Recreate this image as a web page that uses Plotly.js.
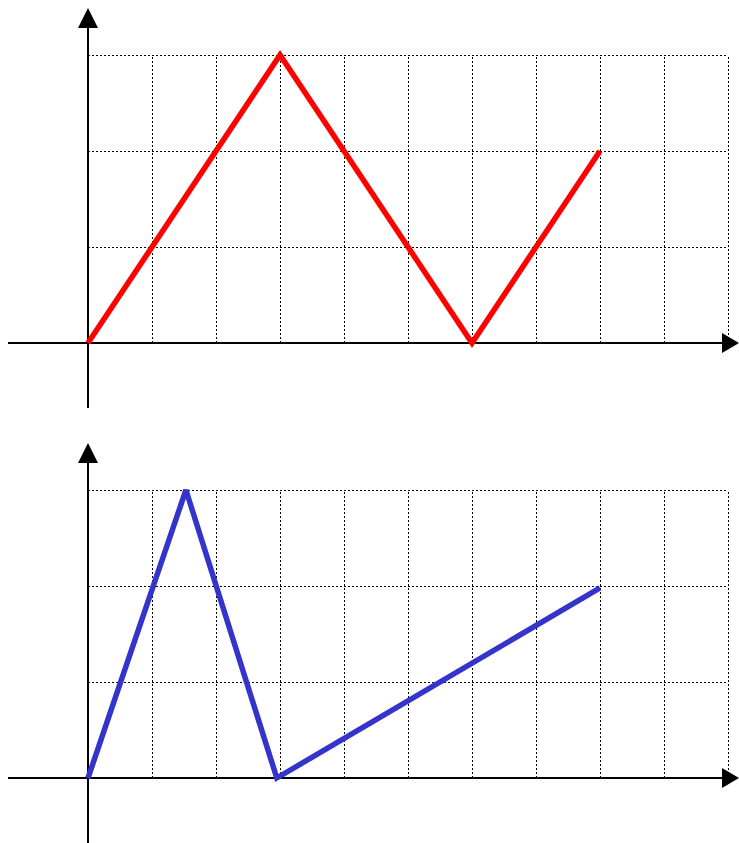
<!DOCTYPE html>
<html>
<head>
<meta charset="utf-8">
<script src="https://cdn.plot.ly/plotly-3.0.1.min.js"></script>
<style>html,body{margin:0;padding:0;background:#fff;}#chart{width:739px;height:843px;}</style>
</head>
<body>
<div id="chart"></div>
<script>
// Data
const redX = [0, 3, 6, 8];
const redY = [0, 3, 0, 2];
const blueX = [0, 1.53, 2.95, 8];
const blueY = [0, 3, 0, 1.98];
const gridXTicks = [0, 1, 2, 3, 4, 5, 6, 7, 8, 9, 10];
const gridYTicks = [0, 1, 2, 3];

const W = 739, H = 843;
const split = 425; // pixel row between the two panels
const xRange = [-88 / 64, (W - 88) / 64];
const topRange = [(343 - split) / 96, 343 / 96];
const botRange = [(778 - H) / 96, (778 - split) / 96];
const px = 0.5 / 64, py = 0.5 / 96; // half-pixel offsets for crisp 1px lines

function panelShapes(xr, yr, yLow, yArrowBase, yTip, xLeft, xArrowBase, xTip) {
  const s = [];
  const dot = {color: '#000', width: 1, dash: '2px,2px'};
  const yMin = gridYTicks[0], yMax = gridYTicks[gridYTicks.length - 1];
  const xMin = gridXTicks[0], xMax = gridXTicks[gridXTicks.length - 1];
  gridXTicks.forEach(v => {
    s.push({type: 'line', xref: xr, yref: yr, x0: v + px, x1: v + px, y0: yMin, y1: yMax, line: dot, layer: 'below'});
  });
  gridYTicks.forEach(v => {
    s.push({type: 'line', xref: xr, yref: yr, x0: xMin, x1: xMax, y0: v - py, y1: v - py, line: dot, layer: 'below'});
  });
  const ax = {color: '#000', width: 2};
  // x axis
  s.push({type: 'line', xref: xr, yref: yr, x0: xLeft, x1: xArrowBase, y0: 0, y1: 0, line: ax, layer: 'below'});
  // y axis
  s.push({type: 'line', xref: xr, yref: yr, x0: 0, x1: 0, y0: yLow, y1: yArrowBase, line: ax, layer: 'below'});
  const hw = 10 / 64, hh = 10 / 96;
  s.push({type: 'path', xref: xr, yref: yr,
    path: `M ${xArrowBase} ${-hh} L ${xTip} 0 L ${xArrowBase} ${hh} Z`,
    fillcolor: '#000', line: {color: '#000', width: 0}});
  s.push({type: 'path', xref: xr, yref: yr,
    path: `M ${-hw} ${yArrowBase} L 0 ${yTip} L ${hw} ${yArrowBase} Z`,
    fillcolor: '#000', line: {color: '#000', width: 0}});
  return s;
}

const shapes = [].concat(
  panelShapes('x', 'y', (343 - 408) / 96, (343 - 28) / 96, (343 - 8) / 96, -80 / 64, (722 - 88) / 64, (739 - 88) / 64),
  panelShapes('x2', 'y2', (778 - 843) / 96, (778 - 463) / 96, (778 - 443) / 96, -80 / 64, (722 - 88) / 64, (739 - 88) / 64)
);

const data = [
  {x: redX, y: redY, xaxis: 'x', yaxis: 'y', mode: 'lines', line: {color: '#ff0000', width: 5.5}, hoverinfo: 'skip'},
  {x: blueX, y: blueY, xaxis: 'x2', yaxis: 'y2', mode: 'lines', line: {color: '#3434cc', width: 5.5}, hoverinfo: 'skip'}
];

const axBase = {visible: false, showgrid: false, zeroline: false, fixedrange: true};
const layout = {
  width: W, height: H,
  margin: {l: 0, r: 0, t: 0, b: 0, pad: 0},
  paper_bgcolor: '#fff', plot_bgcolor: 'rgba(0,0,0,0)',
  showlegend: false,
  xaxis: Object.assign({}, axBase, {range: xRange, domain: [0, 1], anchor: 'y'}),
  yaxis: Object.assign({}, axBase, {range: topRange, domain: [1 - split / H, 1], anchor: 'x'}),
  xaxis2: Object.assign({}, axBase, {range: xRange, domain: [0, 1], anchor: 'y2'}),
  yaxis2: Object.assign({}, axBase, {range: botRange, domain: [0, 1 - split / H], anchor: 'x2'}),
  shapes: shapes
};

Plotly.newPlot('chart', data, layout, {displayModeBar: false, staticPlot: true});
</script>
</body>
</html>
